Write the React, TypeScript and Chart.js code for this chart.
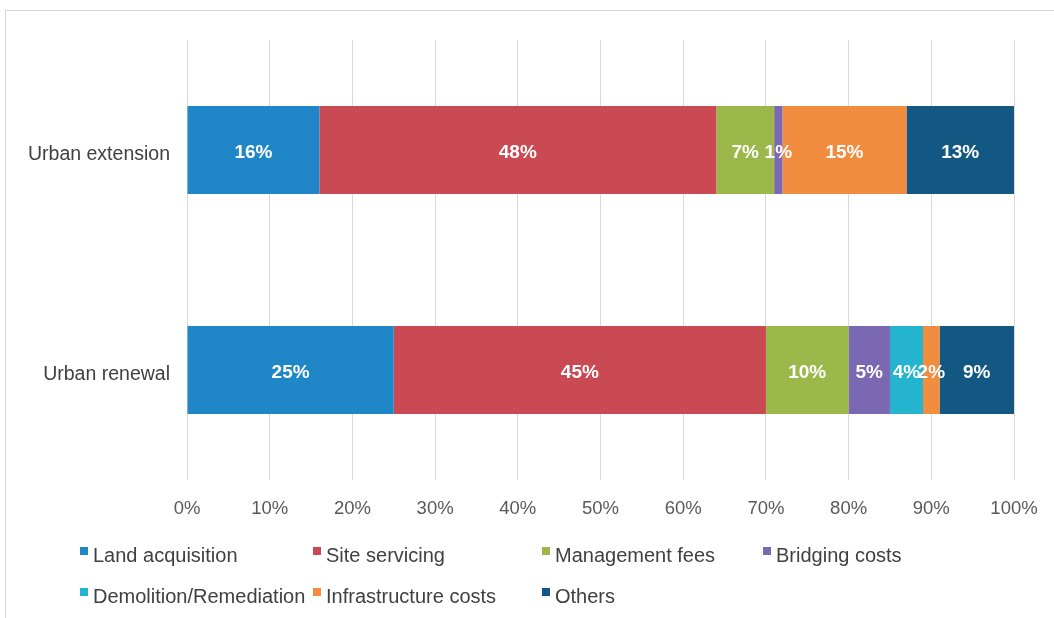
import React, { useEffect, useRef } from "react";
import { Chart, registerables } from "chart.js";

Chart.register(...registerables);

const categories = ["Urban extension", "Urban renewal"];
const seriesNames = [
  "Land acquisition",
  "Site servicing",
  "Management fees",
  "Bridging costs",
  "Demolition/Remediation",
  "Infrastructure costs",
  "Others",
];
const landAcquisition = [16, 25];
const siteServicing = [48, 45];
const managementFees = [7, 10];
const bridgingCosts = [1, 5];
const demolition = [0, 4];
const infrastructure = [15, 2];
const others = [13, 9];
const xTicks = [0, 10, 20, 30, 40, 50, 60, 70, 80, 90, 100];

const seriesValues = [
  landAcquisition,
  siteServicing,
  managementFees,
  bridgingCosts,
  demolition,
  infrastructure,
  others,
];
const colors = ["#1f87c8", "#c94a52", "#9db84a", "#7a68b3", "#25b4cf", "#f28c3e", "#135783"];

const FONT = "'Liberation Sans', Arial, sans-serif";

const barLabels = {
  id: "barLabels",
  afterDatasetsDraw(chart: any) {
    const ctx = chart.ctx;
    ctx.save();
    ctx.font = `bold 19px ${FONT}`;
    ctx.fillStyle = "#ffffff";
    ctx.textAlign = "center";
    ctx.textBaseline = "middle";
    chart.data.datasets.forEach((ds: any, i: number) => {
      const meta = chart.getDatasetMeta(i);
      meta.data.forEach((bar: any, j: number) => {
        const v = ds.data[j];
        if (!v) return;
        const cx = (bar.x + bar.base) / 2;
        ctx.fillText(`${v}%`, cx, bar.y + 3);
      });
    });
    ctx.restore();
  },
};

const legendLayout = [
  { x: 80, y: 556 },
  { x: 313, y: 556 },
  { x: 542, y: 556 },
  { x: 763, y: 556 },
  { x: 80, y: 597 },
  { x: 313, y: 597 },
  { x: 542, y: 597 },
];

const customLegend = {
  id: "customLegend",
  afterDraw(chart: any) {
    const ctx = chart.ctx;
    ctx.save();
    ctx.font = `20px ${FONT}`;
    ctx.textBaseline = "middle";
    ctx.textAlign = "left";
    seriesNames.forEach((name, i) => {
      const p = legendLayout[i];
      ctx.fillStyle = colors[i];
      ctx.fillRect(p.x, p.y - 9, 8, 8);
      ctx.fillStyle = "#404040";
      ctx.fillText(name, p.x + 13, p.y);
    });
    ctx.restore();
  },
};

export default function App() {
  const ref = useRef<HTMLCanvasElement>(null);
  useEffect(() => {
    if (!ref.current) return;
    const chart = new Chart(ref.current, {
      type: "bar",
      data: {
        labels: categories,
        datasets: seriesNames.map((name, i) => ({
          label: name,
          data: seriesValues[i],
          backgroundColor: colors[i],
          borderWidth: 0,
          barPercentage: 0.4,
          categoryPercentage: 1,
        })),
      },
      options: {
        indexAxis: "y",
        animation: false,
        responsive: false,
        maintainAspectRatio: false,
        layout: { padding: { top: 40, right: 40, left: 0, bottom: 0 } },
        plugins: {
          legend: { display: false },
          tooltip: { enabled: false },
        },
        scales: {
          x: {
            stacked: true,
            min: 0,
            max: 100,
            afterBuildTicks(scale: any) {
              scale.ticks = xTicks.map((v) => ({ value: v }));
            },
            afterFit(scale: any) {
              scale.height = 138;
              scale.paddingRight = 0;
              scale.paddingLeft = 0;
            },
            ticks: {
              callback: (v: any) => `${v}%`,
              font: { family: FONT, size: 18.5 },
              color: "#595959",
              padding: 18,
              maxRotation: 0,
            },
            grid: { color: "#d9d9d9", lineWidth: 1, drawTicks: false },
            border: { display: false },
          },
          y: {
            stacked: true,
            afterFit(scale: any) {
              scale.width = 187;
            },
            ticks: {
              font: { family: FONT, size: 19.5 },
              color: "#404040",
              padding: 17,
              labelOffset: 5,
            },
            grid: { display: false, drawTicks: false },
            border: { display: false },
          },
        },
      },
      plugins: [barLabels, customLegend],
    });
    return () => chart.destroy();
  }, []);

  return (
    <div
      style={{
        position: "absolute",
        left: 0,
        top: 0,
        width: 1054,
        height: 618,
        background: "#ffffff",
        overflow: "hidden",
      }}
    >
      <div
        style={{
          position: "absolute",
          left: 5,
          top: 10,
          width: 1100,
          height: 700,
          border: "1px solid #d6d6d6",
        }}
      />
      <canvas
        ref={ref}
        width={1054}
        height={618}
        style={{ position: "absolute", left: 0, top: 0, width: 1054, height: 618 }}
      />
    </div>
  );
}
